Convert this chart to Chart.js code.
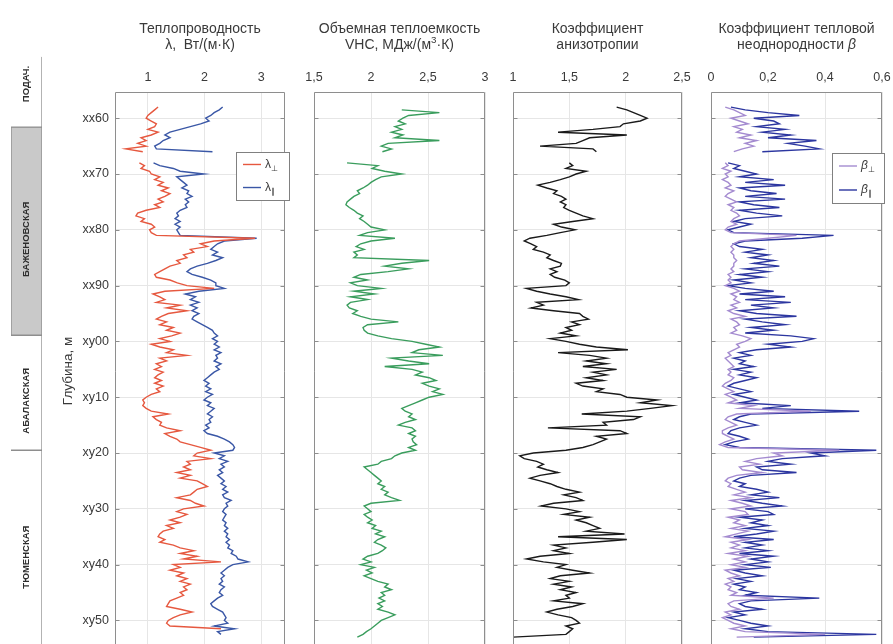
<!DOCTYPE html>
<html lang="ru">
<head>
<meta charset="UTF-8" />
<title>Теплофизические свойства по разрезу скважины</title>
<script src="https://cdn.jsdelivr.net/npm/chart.js"></script>
<style>
  html, body { margin: 0; padding: 0; background: #fff; overflow: hidden; }
  #wrap { position: relative; width: 893px; height: 644px; overflow: hidden; }
  #wrap canvas { position: absolute; top: 0; }
</style>
</head>
<body>
<div id="wrap">
  <canvas id="formations" width="45" height="650" style="left:0"></canvas>
  <canvas id="lambda" width="300" height="650" style="left:0"></canvas>
  <canvas id="vhc" width="200" height="650" style="left:300px"></canvas>
  <canvas id="aniso" width="196" height="650" style="left:499px"></canvas>
  <canvas id="beta" width="196" height="650" style="left:697px"></canvas>
</div>
<script>
// depth grid, m (xx00 = 0, xy00 = 100)
const depth = [
  58,58.5,59,59.5,60,60.5,61,61.5,62,62.5,63,63.5,64,64.5,65,65.5,66,66.5,67,67.5,
  68,68.5,69,69.5,70,70.5,71,71.5,72,72.5,73,73.5,74,74.5,75,75.5,76,76.5,77,77.5,
  78,78.5,79,79.5,80,80.5,81,81.5,82,82.5,83,83.5,84,84.5,85,85.5,86,86.5,87,87.5,
  88,88.5,89,89.5,90,90.5,91,91.5,92,92.5,93,93.5,94,94.5,95,95.5,96,96.5,97,97.5,
  98,98.5,99,99.5,100,100.5,101,101.5,102,102.5,103,103.5,104,104.5,105,105.5,106,106.5,107,107.5,
  108,108.5,109,109.5,110,110.5,111,111.5,112,112.5,113,113.5,114,114.5,115,115.5,116,116.5,117,117.5,
  118,118.5,119,119.5,120,120.5,121,121.5,122,122.5,123,123.5,124,124.5,125,125.5,126,126.5,127,127.5,
  128,128.5,129,129.5,130,130.5,131,131.5,132,132.5,133,133.5,134,134.5,135,135.5,136,136.5,137,137.5,
  138,138.5,139,139.5,140,140.5,141,141.5,142,142.5,143,143.5,144,144.5,145,145.5,146,146.5,147,147.5,
  148,148.5,149,149.5,150,150.5,151,151.5,152,152.5,153
];

// thermal conductivity across bedding, W/(m·K)
const lambdaPerp = [
  1.18,1.12,1.06,1.0,0.97,1.06,1.15,1.12,1.0,1.18,1.06,0.88,0.97,0.82,0.97,0.61,0.91,
  null,null,null,
  0.85,0.94,0.88,1.03,1.06,1.21,1.12,1.27,1.18,1.36,1.24,1.39,1.30,1.18,1.27,1.12,1.21,0.97,0.82,0.79,
  0.94,0.88,1.06,1.12,1.03,1.06,1.15,2.89,
  2.17,1.93,2.05,1.75,1.81,1.63,1.69,1.51,1.57,1.39,1.30,1.21,1.12,1.15,1.39,1.52,1.69,2.17,1.30,1.09,
  1.21,1.30,1.15,1.57,1.33,1.69,1.36,1.24,1.15,1.33,1.21,1.45,1.33,1.57,1.42,1.21,1.39,1.06,1.21,1.45,
  1.33,1.69,1.21,1.33,1.15,1.24,1.12,1.27,
  1.18,1.12,1.24,1.12,1.27,1.15,1.21,1.06,0.97,0.91,0.94,0.91,0.97,1.06,1.36,1.09,1.15,1.24,1.21,1.33,
  1.57,1.30,1.39,1.51,1.57,1.75,1.93,2.11,1.87,1.81,2.11,1.69,1.75,1.63,1.75,1.51,1.75,1.57,1.87,1.96,
  2.05,1.87,1.81,1.75,1.51,1.75,1.84,1.99,1.63,1.51,1.69,1.57,1.39,1.57,1.33,1.45,1.27,1.21,1.18,1.30,
  1.21,1.45,1.57,1.81,1.57,1.87,1.63,2.29,1.45,1.57,1.39,1.63,1.51,1.69,1.57,1.75,1.63,1.69,1.57,1.63,
  1.51,1.39,1.36,1.33,1.57,1.78,1.57,1.45,1.36,1.33,1.39,2.29,
  null,null,null
];
// thermal conductivity along bedding, W/(m·K)
const lambdaPar = [
  2.32,2.26,2.17,2.11,2.02,2.08,1.93,1.75,1.57,1.39,1.30,1.39,1.27,1.21,1.12,1.15,2.14,
  null,null,null,
  1.10,1.21,1.45,1.57,1.99,1.51,1.57,1.63,1.69,1.60,1.72,1.69,1.78,1.66,1.72,1.66,1.69,1.57,1.51,1.54,
  1.48,1.57,1.48,1.57,1.51,1.54,1.57,2.92,
  2.35,2.23,2.17,2.11,2.23,2.14,2.32,2.20,2.05,1.87,1.75,1.69,1.78,1.96,2.11,2.20,2.20,2.35,1.90,1.66,
  1.84,1.75,1.90,1.75,1.87,1.78,1.90,1.81,1.78,1.87,1.96,2.05,2.14,2.17,2.23,2.14,2.23,2.17,2.26,2.17,
  2.29,2.20,2.23,2.17,2.29,2.20,2.26,2.17,
  2.11,2.05,1.99,2.08,2.02,2.11,2.02,2.14,2.05,1.99,2.11,2.05,2.17,2.11,2.05,2.14,2.08,2.11,2.02,2.08,
  1.99,2.05,2.23,2.35,2.44,2.50,2.53,2.50,2.17,2.35,2.26,2.41,2.29,2.35,2.26,2.32,2.23,2.29,2.35,2.29,
  2.38,2.32,2.41,2.32,2.35,2.47,2.38,2.41,2.35,2.32,2.38,2.35,2.32,2.38,2.35,2.41,2.35,2.41,2.38,2.44,
  2.38,2.44,2.41,2.50,2.47,2.56,2.59,2.77,2.50,2.41,2.35,2.29,2.35,2.29,2.32,2.26,2.35,2.29,2.26,2.32,
  2.23,2.17,2.11,2.14,2.23,2.32,2.35,2.38,2.35,2.41,2.17,2.53,2.23,2.29,
  null
];
// volumetric heat capacity, MJ/(m3·K)
const vhc = [
  null,2.27,2.60,2.33,2.28,2.24,2.30,2.21,2.27,2.18,2.28,2.21,2.60,2.15,2.09,2.18,2.10,
  null,null,null,
  1.79,2.06,2.01,2.12,2.27,2.09,2.04,2.0,1.97,1.93,1.88,1.90,1.85,1.82,1.79,1.78,1.81,1.85,1.88,1.93,
  1.90,1.94,1.97,2.0,2.12,1.97,1.90,2.21,
  2.0,1.91,1.87,1.94,1.85,1.88,1.85,2.51,2.27,2.12,2.33,2.15,1.91,1.85,1.97,1.82,1.88,2.09,1.85,2.03,
  1.82,1.97,1.82,1.79,1.81,1.88,1.84,1.91,2.0,2.24,1.97,1.93,1.94,1.97,2.06,2.18,2.36,2.48,2.60,2.42,
  2.36,2.63,2.18,2.33,2.51,2.12,2.36,2.45,
  2.39,2.51,2.57,2.45,2.51,2.60,2.54,2.63,2.51,2.45,2.39,2.33,2.27,2.30,2.36,2.33,2.39,2.30,2.24,2.36,
  2.39,2.33,2.39,2.36,2.37,2.40,2.33,2.39,2.27,2.21,2.18,2.09,2.06,1.94,1.97,2.0,2.03,2.06,2.09,2.06,
  2.12,2.09,2.15,2.12,2.18,2.25,2.0,1.94,1.97,2.0,1.94,1.97,2.01,1.97,2.04,2.01,2.09,2.04,2.12,2.06,
  2.03,2.09,2.13,2.10,2.06,1.97,1.93,2.0,1.91,2.03,1.96,2.01,1.94,2.0,2.06,2.15,2.12,2.18,2.09,2.12,
  2.07,2.12,2.06,2.10,2.06,2.15,2.21,2.15,2.09,2.06,2.03,2.0,1.96,1.93,1.88
];
// anisotropy coefficient
const anisotropy = [
  1.92,2.01,2.07,2.13,2.19,2.13,1.98,1.95,1.71,1.40,2.01,1.68,1.62,1.56,1.24,1.71,1.74,
  null,null,null,
  1.50,1.53,1.47,1.65,1.56,1.50,1.42,1.33,1.22,1.30,1.39,1.36,1.43,1.47,1.42,1.47,1.45,1.50,1.56,1.62,
  1.71,1.53,1.36,1.43,1.55,1.42,1.30,1.15,
  1.10,1.16,1.21,1.18,1.27,1.33,1.30,1.36,1.43,1.42,1.33,1.39,1.33,1.37,1.46,1.50,1.47,1.12,1.21,1.33,
  1.47,1.58,1.21,1.27,1.16,1.36,1.59,1.62,1.67,1.52,1.59,1.47,1.52,1.42,1.56,1.33,1.47,1.59,1.74,2.02,
  1.40,1.68,1.83,1.65,1.83,1.62,1.92,1.71,
  1.83,1.65,1.80,1.56,1.62,1.80,1.74,1.95,2.01,2.28,2.13,2.41,2.22,2.01,1.61,2.13,2.07,1.80,1.83,1.31,
  1.95,2.01,1.74,1.83,1.77,1.71,1.62,1.47,1.18,1.06,1.10,1.21,1.27,1.22,1.30,1.40,1.24,1.15,1.24,1.33,
  1.39,1.47,1.59,1.45,1.56,1.62,1.36,1.25,1.47,1.59,1.45,1.68,1.56,1.65,1.71,1.77,1.65,1.99,1.40,2.01,
  1.71,1.36,1.47,1.36,1.50,1.24,1.12,1.27,1.47,1.39,1.53,1.68,1.42,1.33,1.50,1.36,1.52,1.42,1.56,1.47,
  1.50,1.36,1.62,1.53,1.39,1.30,1.40,1.52,1.56,1.59,1.47,1.53,1.50,1.47,1.0
];
// thermal heterogeneity coefficient, across / along bedding
const betaPerp = [
  0.05,0.08,0.10,0.12,0.07,0.10,0.13,0.08,0.11,0.09,0.14,0.10,0.16,0.12,0.15,0.11,0.08,
  null,null,null,
  0.05,0.06,0.04,0.07,0.05,0.06,0.04,0.06,0.07,0.05,0.08,0.06,0.05,0.07,0.09,0.06,0.08,0.07,0.09,0.10,
  0.08,0.07,0.09,0.06,0.05,0.07,0.30,0.20,
  0.10,0.08,0.07,0.08,0.07,0.08,0.08,0.09,0.08,0.08,0.07,0.08,0.06,0.07,0.06,0.07,0.05,0.08,0.10,0.07,
  0.09,0.08,0.10,0.07,0.09,0.06,0.08,0.12,0.07,0.09,0.10,0.08,0.09,0.07,0.11,0.14,0.12,0.09,0.10,0.08,
  0.06,0.07,0.05,0.06,0.07,0.08,0.06,0.07,
  0.06,0.08,0.07,0.05,0.04,0.06,0.08,0.05,0.07,0.09,0.06,0.15,0.10,0.35,0.09,0.06,0.05,0.07,0.09,0.06,
  0.04,0.04,0.06,0.08,0.05,0.03,0.06,0.45,0.22,0.25,0.16,0.12,0.17,0.10,0.11,0.18,0.09,0.06,0.05,0.07,
  0.06,0.09,0.12,0.08,0.14,0.07,0.11,0.14,0.07,0.12,0.13,0.06,0.10,0.08,0.12,0.07,0.13,0.09,0.05,0.13,
  0.07,0.10,0.07,0.12,0.06,0.13,0.08,0.12,0.07,0.12,0.05,0.07,0.10,0.06,0.08,0.05,0.07,0.06,0.09,0.07,
  0.22,0.08,0.06,0.07,0.10,0.05,0.07,0.04,0.06,0.08,0.12,0.07,0.12,0.40,0.09
];
const betaPar = [
  0.07,0.12,0.20,0.31,0.15,0.22,0.24,0.16,0.26,0.18,0.28,0.20,0.37,0.27,0.33,0.38,0.18,
  null,null,null,
  0.06,0.10,0.08,0.12,0.16,0.10,0.22,0.12,0.26,0.10,0.14,0.23,0.12,0.26,0.10,0.15,0.24,0.10,0.16,0.25,
  0.12,0.08,0.14,0.10,0.06,0.08,0.43,0.32,
  0.12,0.08,0.10,0.18,0.12,0.20,0.14,0.22,0.15,0.24,0.12,0.20,0.10,0.18,0.08,0.14,0.06,0.12,0.22,0.10,
  0.26,0.12,0.28,0.14,0.22,0.10,0.16,0.30,0.12,0.18,0.26,0.14,0.22,0.12,0.28,0.36,0.32,0.20,0.28,0.16,
  0.10,0.14,0.08,0.12,0.10,0.15,0.08,0.14,
  0.10,0.16,0.12,0.08,0.06,0.10,0.14,0.08,0.12,0.16,0.10,0.28,0.18,0.52,0.14,0.10,0.08,0.12,0.16,0.10,
  0.07,0.06,0.10,0.13,0.08,0.05,0.10,0.58,0.35,0.40,0.25,0.20,0.28,0.16,0.18,0.30,0.14,0.10,0.08,0.12,
  0.10,0.16,0.20,0.14,0.24,0.12,0.18,0.25,0.12,0.20,0.22,0.10,0.18,0.14,0.20,0.12,0.22,0.16,0.08,0.22,
  0.12,0.18,0.12,0.20,0.10,0.22,0.14,0.20,0.12,0.21,0.08,0.12,0.18,0.09,0.14,0.08,0.12,0.10,0.16,0.12,
  0.38,0.14,0.10,0.12,0.18,0.08,0.12,0.06,0.10,0.14,0.20,0.12,0.20,0.58,0.15
];

const depthTicks = [60, 70, 80, 90, 100, 110, 120, 130, 140, 150];
const lambdaTicks = [1, 2, 3];
const vhcTicks = [1.5, 2, 2.5, 3];
const anisoTicks = [1, 1.5, 2, 2.5];
const betaTicks = [0, 0.2, 0.4, 0.6];

const formationNames = ['ПОДАЧ.', 'БАЖЕНОВСКАЯ', 'АБАЛАКСКАЯ', 'ТЮМЕНСКАЯ'];
const formationTop = [49, 61.6, 98.9, 119.5];
const formationBase = [61.6, 98.9, 119.5, 160];

const FONT = 'Liberation Sans';
const TEXT = '#3a3a3a';
const GRID = '#e6e6e6';
const FRAME = '#8e8e8e';
const DEPTH_MIN = 55.3, DEPTH_MAX = 155.3;

Chart.defaults.font.family = FONT;

const depthLabel = v => v < 100 ? 'xx' + v : 'xy' + String(v - 100).padStart(2, '0');
const points = vals => depth.map((d, i) => ({ x: vals[i], y: d }));

// rich text: plain strings, {sup}, {sub}, {it}
function drawRich(ctx, parts, x, y, size, align) {
  const segs = parts.map(p => {
    if (typeof p === 'string') return { t: p, f: `${size}px ${FONT}`, dy: 0 };
    if (p.sup) return { t: p.sup, f: `${size * 0.7}px ${FONT}`, dy: -size * 0.35 };
    if (p.sub) return { t: p.sub, f: `${size * 0.7}px ${FONT}`, dy: size * 0.32 };
    return { t: p.it, f: `italic ${size}px ${FONT}`, dy: 0 };
  });
  let w = 0;
  segs.forEach(s => { ctx.font = s.f; s.w = ctx.measureText(s.t).width; w += s.w; });
  let cx = align === 'center' ? x - w / 2 : x;
  ctx.textAlign = 'left';
  ctx.textBaseline = 'middle';
  segs.forEach(s => { ctx.font = s.f; ctx.fillText(s.t, cx, y + s.dy); cx += s.w; });
}

// panel frame, inner ticks, two-line heading and optional legend box
const panelDecor = {
  id: 'panelDecor',
  afterDatasetsDraw(chart, args, opts) {
    const { ctx, chartArea: a } = chart;
    ctx.save();
    ctx.strokeStyle = FRAME;
    ctx.lineWidth = 1;
    const L = Math.round(a.left) + 0.5, R = Math.round(a.right) - 0.5, T = Math.round(a.top) + 0.5;
    ctx.beginPath();
    ctx.moveTo(L, a.bottom + 2); ctx.lineTo(L, T); ctx.lineTo(R, T); ctx.lineTo(R, a.bottom + 2);
    const ys = chart.scales.y;
    depthTicks.forEach(v => {
      const py = Math.round(ys.getPixelForValue(v)) + 0.5;
      ctx.moveTo(L, py); ctx.lineTo(L + 4, py);
      ctx.moveTo(R, py); ctx.lineTo(R - 4, py);
    });
    ctx.stroke();

    ctx.fillStyle = TEXT;
    const cx = (a.left + a.right) / 2;
    opts.heading.forEach((line, i) => drawRich(ctx, line, cx, 29 + i * 16, 14, 'center'));

    if (opts.legend) {
      const g = opts.legend;
      const x = a.right + g.dx, y = a.top + g.dy;
      ctx.fillStyle = '#fff';
      ctx.fillRect(x, y, g.w, g.h);
      ctx.strokeStyle = '#808080';
      ctx.strokeRect(Math.round(x) + 0.5, Math.round(y) + 0.5, g.w, g.h);
      chart.data.datasets.forEach((ds, i) => {
        const ly = y + g.h * (i === 0 ? 0.26 : 0.74);
        ctx.strokeStyle = ds.borderColor;
        ctx.lineWidth = 1.4;
        ctx.beginPath(); ctx.moveTo(x + 7, ly); ctx.lineTo(x + 25, ly); ctx.stroke();
        ctx.fillStyle = TEXT;
        drawRich(ctx, g.labels[i], x + 29, ly, 12, 'left');
      });
    }
    ctx.restore();
  }
};

function panel(id, opts) {
  const tickFont = { family: FONT, size: 12.5 };
  const yAxis = {
    type: 'linear', reverse: true, min: DEPTH_MIN, max: DEPTH_MAX,
    afterBuildTicks: s => { s.ticks = depthTicks.map(v => ({ value: v })); },
    grid: { color: GRID, drawTicks: false },
    border: { display: false }
  };
  const yWidth = opts.depthAxis ? 60 : 0;
  yAxis.afterFit = s => { s.width = yWidth; s.paddingTop = 0; s.paddingBottom = 0; };
  if (opts.depthAxis) {
    yAxis.ticks = { font: tickFont, color: TEXT, padding: 6, callback: depthLabel };
    yAxis.title = { display: true, text: 'Глубина, м', font: { family: FONT, size: 13.5 }, color: TEXT, padding: { top: 5, bottom: 0 } };
  } else {
    yAxis.ticks = { display: false };
  }
  return new Chart(document.getElementById(id), {
    type: 'line',
    data: {
      datasets: opts.series.map(s => ({
        label: s.label, data: points(s.values),
        borderColor: s.color, borderWidth: 1.4,
        pointRadius: 0, tension: 0, spanGaps: false
      }))
    },
    options: {
      responsive: false,
      animation: false,
      events: [],
      layout: { padding: { left: opts.padLeft, right: opts.padRight, top: 0, bottom: 0 }, autoPadding: false },
      plugins: { legend: { display: false }, tooltip: { enabled: false }, panelDecor: opts.decor },
      scales: {
        x: {
          type: 'linear', position: 'top', min: opts.min, max: opts.max,
          afterBuildTicks: s => { s.ticks = opts.ticks.map(v => ({ value: v })); },
          afterFit: s => { s.height = 92; s.paddingLeft = 0; s.paddingRight = 0; },
          ticks: {
            font: tickFont, color: TEXT, padding: 7, maxRotation: 0, autoSkip: false,
            callback: v => String(v).replace('.', ',')
          },
          grid: { color: GRID, drawTicks: false },
          border: { display: false }
        },
        y: yAxis
      }
    },
    plugins: [panelDecor]
  });
}

panel('lambda', {
  depthAxis: true, padLeft: 55, padRight: 15, min: 0.42, max: 3.42, ticks: lambdaTicks,
  series: [
    { label: 'λ⊥', values: lambdaPerp, color: '#e6583f' },
    { label: 'λ∥', values: lambdaPar, color: '#3a57a6' }
  ],
  decor: {
    heading: [['Теплопроводность'], ['λ,  Вт/(м·К)']],
    legend: { dx: -49, dy: 60, w: 53, h: 48, labels: [['λ', { sub: '⊥' }], ['λ', { sub: '∥' }]] }
  }
});

panel('vhc', {
  padLeft: 14, padRight: 15, min: 1.5, max: 3, ticks: vhcTicks,
  series: [{ label: 'VHC', values: vhc, color: '#3a9d5d' }],
  decor: { heading: [['Объемная теплоемкость'], ['VHC, МДж/(м', { sup: '3' }, '·К)']] }
});

panel('aniso', {
  padLeft: 14, padRight: 13, min: 1, max: 2.5, ticks: anisoTicks,
  series: [{ label: 'K', values: anisotropy, color: '#1a1a1a' }],
  decor: { heading: [['Коэффициент'], ['анизотропии']] }
});

panel('beta', {
  padLeft: 14, padRight: 11, min: 0, max: 0.6, ticks: betaTicks,
  series: [
    { label: 'β⊥', values: betaPerp, color: '#a48bd0' },
    { label: 'β∥', values: betaPar, color: '#2c36a0' }
  ],
  decor: {
    heading: [['Коэффициент тепловой'], ['неоднородности ', { it: 'β' }]],
    legend: { dx: -50, dy: 61, w: 52, h: 50, labels: [[{ it: 'β' }, { sub: '⊥' }], [{ it: 'β' }, { sub: '∥' }]] }
  }
});

// stratigraphic column on the left; names sit a little below the middle of each interval
const nameShift = [-8, 8, 8, 10];
const formationText = {
  id: 'formationText',
  afterDatasetsDraw(chart) {
    const { ctx } = chart;
    ctx.save();
    ctx.fillStyle = '#2e2e2e';
    ctx.font = `bold 9.5px ${FONT}`;
    ctx.textAlign = 'center';
    ctx.textBaseline = 'middle';
    chart.data.datasets.forEach((ds, i) => {
      const bar = chart.getDatasetMeta(i).data[0];
      const top = Math.min(bar.y, bar.base), bottom = Math.min(Math.max(bar.y, bar.base), 644);
      ctx.save();
      ctx.translate(bar.x, (top + bottom) / 2 + nameShift[i]);
      ctx.rotate(-Math.PI / 2);
      ctx.fillText(ds.label, 0, 0);
      ctx.restore();
    });
    ctx.restore();
  }
};

new Chart(document.getElementById('formations'), {
  type: 'bar',
  data: {
    labels: [''],
    datasets: formationNames.map((name, i) => ({
      label: name,
      data: [[formationTop[i], formationBase[i]]],
      backgroundColor: i === 1 ? '#c9c9c9' : '#ffffff',
      borderColor: '#8e8e8e',
      borderWidth: i === 1 ? 1 : { top: i === 0 ? 0 : 1, bottom: 1, left: 0, right: 1 },
      borderSkipped: false,
      grouped: false,
      barPercentage: 1,
      categoryPercentage: 1
    }))
  },
  options: {
    responsive: false,
    animation: false,
    events: [],
    layout: { padding: { left: 11, right: 3, top: 50, bottom: 0 }, autoPadding: false },
    plugins: { legend: { display: false }, tooltip: { enabled: false } },
    scales: {
      x: { display: false },
      y: { display: false, reverse: true, min: DEPTH_MIN - 42 / 5.58, max: DEPTH_MAX }
    }
  },
  plugins: [formationText]
});
</script>
</body>
</html>
